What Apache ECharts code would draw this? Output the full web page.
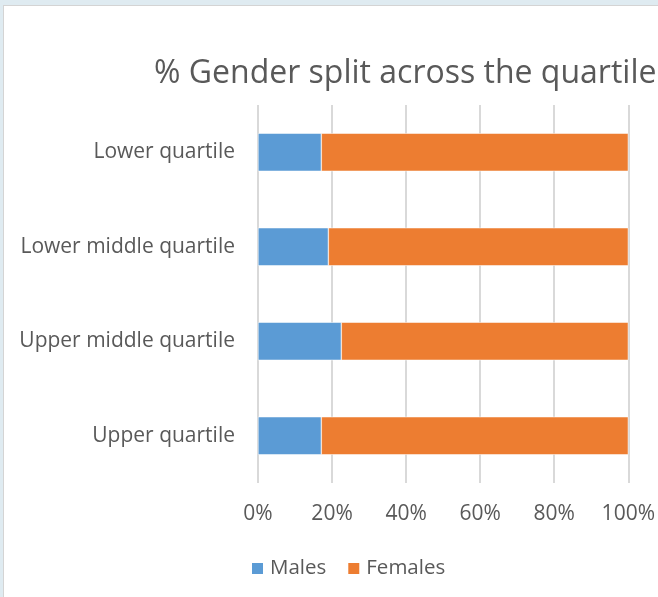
<!DOCTYPE html>
<html>
<head>
<meta charset="utf-8">
<script src="https://cdn.jsdelivr.net/npm/echarts@6/dist/echarts.min.js"></script>
<style>
  html, body { margin: 0; padding: 0; background: #dfebf1; width: 658px; height: 597px; overflow: hidden; }
  #frame { position: absolute; left: 3px; top: 5px; width: 700px; height: 700px; background: #ffffff; border-left: 1px solid #d4d4d4; border-top: 1px solid #d4d4d4; }
  #chart { position: absolute; left: 0; top: 0; width: 658px; height: 597px; }
</style>
</head>
<body>
<div id="frame"></div>
<div id="chart"></div>
<script>
const titleText = '% Gender split across the quartiles';
const categories = ['Lower quartile', 'Lower middle quartile', 'Upper middle quartile', 'Upper quartile'];
const males = [17.1, 19.0, 22.5, 17.1];
const females = [82.9, 81.0, 77.5, 82.9];
const seriesNames = ['Males', 'Females'];
const xTicks = [0, 20, 40, 60, 80, 100];

const chart = echarts.init(document.getElementById('chart'), null, { renderer: 'canvas' });
const font = '"Open Sans", "Noto Sans", sans-serif';
chart.setOption({
  backgroundColor: 'transparent',
  animation: false,
  title: {
    text: titleText,
    left: 149,
    top: 53,
    textStyle: { fontFamily: font, fontSize: 32, fontWeight: 'normal', color: '#595959' }
  },
  legend: {
    data: seriesNames,
    left: 250,
    top: 558,
    padding: 0,
    itemWidth: 13,
    itemHeight: 13,
    itemGap: 20,
    icon: 'rect',
    textStyle: { fontFamily: font, fontSize: 20.5, color: '#595959', padding: [0, 0, 0, 1] }
  },
  grid: { left: 258, right: 26, top: 105, bottom: 114, containLabel: false },
  xAxis: {
    type: 'value',
    min: xTicks[0],
    max: xTicks[xTicks.length - 1],
    interval: xTicks[1] - xTicks[0],
    axisLine: { show: false },
    axisTick: { show: false },
    splitLine: { show: true, lineStyle: { color: '#d9d9d9', width: 2 } },
    axisLabel: { formatter: '{value}%', fontFamily: font, fontSize: 21, color: '#595959', margin: 21 }
  },
  yAxis: {
    type: 'category',
    data: categories,
    inverse: true,
    axisLine: { show: false },
    axisTick: { show: false },
    splitLine: { show: false },
    axisLabel: { fontFamily: font, fontSize: 21, color: '#595959', margin: 23 }
  },
  series: [
    {
      name: seriesNames[0], type: 'bar', stack: 'total', data: males,
      barWidth: 38,
      itemStyle: { color: '#5b9bd5', borderColor: '#ffffff', borderWidth: 0.5 }
    },
    {
      name: seriesNames[1], type: 'bar', stack: 'total', data: females,
      barWidth: 38,
      itemStyle: { color: '#ed7d31', borderColor: '#ffffff', borderWidth: 0.5 }
    }
  ]
});
</script>
</body>
</html>
